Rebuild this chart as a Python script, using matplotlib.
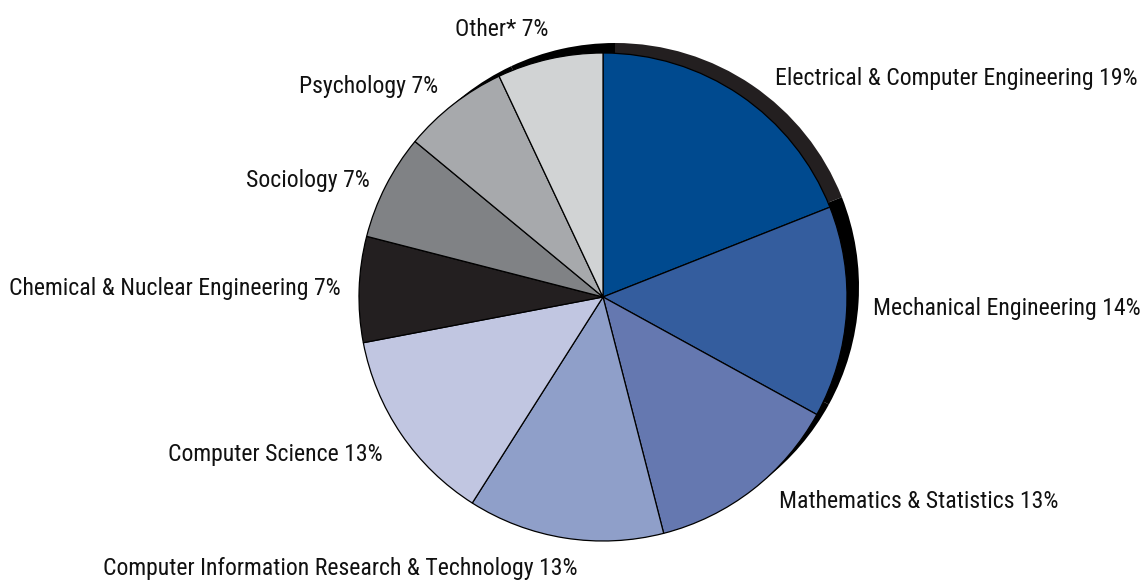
import matplotlib.pyplot as plt
from matplotlib import font_manager

# data
majors = ['Electrical & Computer Engineering', 'Mechanical Engineering',
          'Mathematics & Statistics', 'Computer Information Research & Technology',
          'Computer Science', 'Chemical & Nuclear Engineering', 'Sociology',
          'Psychology', 'Other*']
shares = [19, 14, 13, 13, 13, 7, 7, 7, 7]
colors = ['#004a8f', '#345d9e', '#6578b0', '#8f9fc9', '#c1c6e1',
          '#231f20', '#808285', '#a7a9ac', '#d1d3d4']
shadow_colors = ['#231f20'] + ['#000000'] * 8

# pick a narrow font if there is one
fonts = font_manager.fontManager.ttflist
names = set(f.name for f in fonts)
fam, stretch = ['DejaVu Sans'], 'normal'
for nm in ['Roboto Condensed', 'Liberation Sans Narrow', 'Open Sans Condensed',
           'Noto Sans Condensed', 'DejaVu Sans Condensed']:
    if nm in names:
        fam = [nm, 'DejaVu Sans']
        break
else:
    if any(f.name == 'DejaVu Sans' and f.stretch in ('condensed', 'semi-condensed', 500 - 100)
           for f in fonts if isinstance(f.stretch, str)):
        stretch = 'condensed'
    else:
        stretch = 'condensed'

fig = plt.figure(figsize=(11.42, 5.85), dpi=100)
ax = fig.add_axes([0, 0, 1, 1])

cx, cy, r = 603, 288, 244

# shadow pie behind, shifted up and right
ax.pie(shares, colors=shadow_colors, startangle=90, counterclock=False,
       center=(cx + 12, cy + 10), radius=r, frame=True,
       wedgeprops={'linewidth': 0})
ax.pie(shares, colors=colors, startangle=90, counterclock=False,
       center=(cx, cy), radius=r, frame=True,
       wedgeprops={'edgecolor': 'black', 'linewidth': 0.9})
ax.set_xlim(0, 1142)
ax.set_ylim(0, 585)
ax.set_aspect('equal')
ax.axis('off')

# labels: (x, y from top, ha)
spots = [(775, 78, 'left'), (873, 308, 'left'), (779, 502, 'left'),
         (340, 568, 'center'), (383, 455, 'right'), (341, 288, 'right'),
         (370, 180, 'right'), (438, 86, 'right'), (548, 29, 'right')]
texts = []
for name, val, (x, y, ha) in zip(majors, shares, spots):
    t = ax.text(x, 585 - y, f'{name} {val}%', ha=ha, va='center',
                fontsize=20, family=fam, stretch=stretch, color='#111111')
    texts.append(t)

# shrink text so the longest right label spans the same width as the reference
fig.canvas.draw()
w = texts[0].get_window_extent().width
size = min(20, 20 * 362 / w)
for t in texts:
    t.set_fontsize(size)

fig.savefig('out.png', dpi=100)
